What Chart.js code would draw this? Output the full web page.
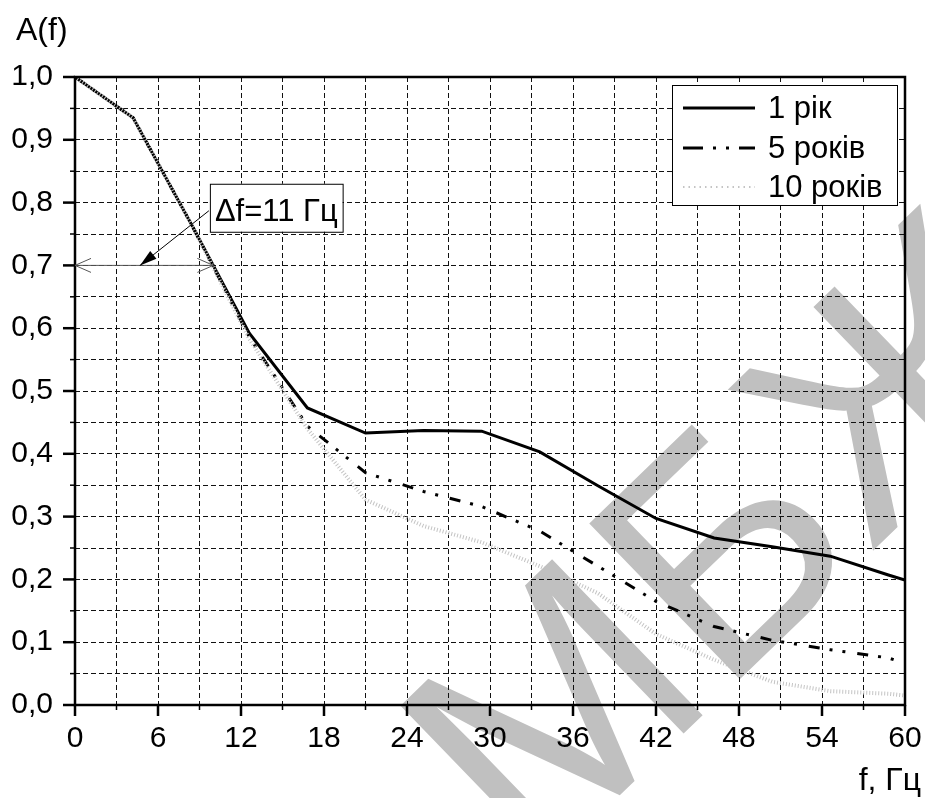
<!DOCTYPE html>
<html>
<head>
<meta charset="utf-8">
<script src="https://cdn.jsdelivr.net/npm/chart.js@4.4.1/dist/chart.umd.min.js"></script>
<style>
  html,body{margin:0;padding:0;background:#fff;}
  #c{display:block;}
</style>
</head>
<body>
<canvas id="c" width="925" height="798"></canvas>
<script>
// ---------- data ----------
const FREQ   = [0, 4.2, 8.4, 12.6, 16.8, 21, 25.2, 29.4, 33.6, 37.8, 42, 46.2, 50.4, 54.6, 58.8, 60];
const A_1Y   = [1.0, 0.935, 0.766, 0.592, 0.473, 0.433, 0.437, 0.436, 0.403, 0.349, 0.297, 0.266, 0.252, 0.237, 0.207, 0.199];
const A_5Y   = [1.0, 0.935, 0.766, 0.586, 0.444, 0.370, 0.340, 0.316, 0.277, 0.221, 0.165, 0.125, 0.103, 0.088, 0.075, 0.066];
const A_10Y  = [1.0, 0.935, 0.766, 0.583, 0.440, 0.327, 0.285, 0.259, 0.221, 0.178, 0.113, 0.072, 0.037, 0.022, 0.018, 0.015];
const SERIES_NAMES = ['1 рік', '5 років', '10 років'];
const X_TICK_LABELS = ['0','6','12','18','24','30','36','42','48','54','60'];
const Y_TICK_LABELS = ['0,0','0,1','0,2','0,3','0,4','0,5','0,6','0,7','0,8','0,9','1,0'];
const X_TITLE = 'f, Гц';
const Y_TITLE = 'A(f)';
const ANNOT_TEXT = 'Δf=11 Гц';
const ANNOT_LEVEL = 0.7;     // A value of the bandwidth line
const ANNOT_F_END = 10;      // f where the line meets the curve
const ANNOT_ARROW_F = 4.7;   // arrow target on the line
const ANNOT_BOX_F = 9.75, ANNOT_BOX_A = 0.83;
const WATERMARK = 'МБЖ';

const FONT = '"Liberation Sans", Arial, sans-serif';
const DASHDOT = [11, 10, 3, 10, 3, 12];
const DOTTED = [1, 2];

function pts(ys){ return FREQ.map((f,i)=>({x:f, y:ys[i]})); }

const framePlugin = {
  id: 'frame',
  afterDatasetsDraw(chart){
    const ctx = chart.ctx, a = chart.chartArea;
    const xs = chart.scales.x, ys = chart.scales.y;
    ctx.save();
    // frame
    ctx.strokeStyle = '#000'; ctx.lineWidth = 2.5; ctx.setLineDash([]);
    ctx.strokeRect(a.left, a.top, a.right - a.left, a.bottom - a.top);
    // x ticks
    for (let v = 0; v <= 60; v += 3){
      const x = xs.getPixelForValue(v); const major = v % 6 === 0;
      ctx.lineWidth = major ? 2.5 : 1.5;
      ctx.beginPath(); ctx.moveTo(x, a.bottom); ctx.lineTo(x, a.bottom + (major ? 11 : 5)); ctx.stroke();
    }
    // y ticks
    for (let k = 0; k <= 20; k++){
      const y = ys.getPixelForValue(k * 0.05); const major = k % 2 === 0;
      ctx.lineWidth = major ? 2.5 : 1.5;
      ctx.beginPath(); ctx.moveTo(a.left, y); ctx.lineTo(a.left - (major ? 12 : 5), y); ctx.stroke();
    }
    // bandwidth annotation
    const yL = ys.getPixelForValue(ANNOT_LEVEL);
    const x0 = xs.getPixelForValue(0), x1 = xs.getPixelForValue(ANNOT_F_END);
    ctx.strokeStyle = '#555'; ctx.lineWidth = 1;
    ctx.beginPath(); ctx.moveTo(x0, yL); ctx.lineTo(x1, yL);
    ctx.moveTo(x0 + 16, yL - 7); ctx.lineTo(x0, yL); ctx.lineTo(x0 + 16, yL + 7);
    ctx.moveTo(x1 - 16, yL - 7); ctx.lineTo(x1, yL); ctx.lineTo(x1 - 16, yL + 7);
    ctx.stroke();
    // box
    ctx.font = '31px ' + FONT;
    const tw = ctx.measureText(ANNOT_TEXT).width;
    const bx = xs.getPixelForValue(ANNOT_BOX_F), by = ys.getPixelForValue(ANNOT_BOX_A);
    const bw = tw + 10, bh = 48;
    ctx.fillStyle = '#fff'; ctx.fillRect(bx, by, bw, bh);
    ctx.strokeStyle = '#000'; ctx.lineWidth = 1; ctx.strokeRect(bx + 0.5, by + 0.5, bw, bh);
    ctx.fillStyle = '#000'; ctx.textBaseline = 'alphabetic'; ctx.textAlign = 'left';
    ctx.fillText(ANNOT_TEXT, bx + 5, by + 37);
    // arrow
    const ax = xs.getPixelForValue(ANNOT_ARROW_F);
    const sx = bx - 1, sy = by + 27;
    const ang = Math.atan2(yL - sy, ax - sx);
    ctx.beginPath(); ctx.moveTo(sx, sy); ctx.lineTo(ax, yL); ctx.stroke();
    ctx.beginPath();
    ctx.moveTo(ax, yL);
    ctx.lineTo(ax - 17*Math.cos(ang) + 5*Math.sin(ang), yL - 17*Math.sin(ang) - 5*Math.cos(ang));
    ctx.lineTo(ax - 17*Math.cos(ang) - 5*Math.sin(ang), yL - 17*Math.sin(ang) + 5*Math.cos(ang));
    ctx.closePath(); ctx.fill();
    ctx.restore();
  },
  afterDraw(chart){
    const ctx = chart.ctx, a = chart.chartArea;
    ctx.save();
    // legend
    const lx = 672, ly = 85, lw = 225, lh = 120;
    ctx.fillStyle = '#fff'; ctx.fillRect(lx, ly, lw, lh);
    ctx.strokeStyle = '#000'; ctx.lineWidth = 1; ctx.setLineDash([]);
    ctx.strokeRect(lx + 0.5, ly + 0.5, lw, lh);
    const rows = [108, 148, 187];
    const ds = chart.data.datasets;
    const order = [2, 1, 0]; // datasets are stored 10,5,1
    ctx.font = '31px ' + FONT; ctx.textBaseline = 'middle'; ctx.textAlign = 'left';
    order.forEach((di, r) => {
      const d = ds[di];
      ctx.save();
      ctx.strokeStyle = d.borderColor;
      ctx.lineWidth = d.legendWidth;
      ctx.setLineDash(d.legendDash);
      ctx.beginPath(); ctx.moveTo(683, rows[r]); ctx.lineTo(755, rows[r]); ctx.stroke();
      ctx.restore();
      ctx.fillStyle = '#000';
      ctx.fillText(d.label, 768, rows[r] + 1);
    });
    // axis titles
    ctx.font = '32px ' + FONT; ctx.textBaseline = 'alphabetic';
    ctx.textAlign = 'left'; ctx.fillText(Y_TITLE, 16, 40);
    ctx.textAlign = 'right'; ctx.fillText(X_TITLE, 921, 790);
    // watermark
    ctx.globalCompositeOperation = 'darken';
    ctx.fillStyle = '#c0c0c0';
    ctx.translate(728, 535); ctx.rotate(-44 * Math.PI / 180);
    ctx.font = '315px ' + FONT; ctx.textAlign = 'center'; ctx.textBaseline = 'alphabetic';
    ctx.fillText(WATERMARK, 0, 112);
    ctx.restore();
  }
};

new Chart(document.getElementById('c'), {
  type: 'line',
  data: {
    datasets: [
      { label: SERIES_NAMES[2], data: pts(A_10Y), borderColor: '#c4c4c4', borderWidth: 4, borderDash: DOTTED,
        legendDash: [1.5, 4], legendWidth: 2, pointRadius: 0, tension: 0, fill: false },
      { label: SERIES_NAMES[1], data: pts(A_5Y), borderColor: '#000', borderWidth: 3, borderDash: DASHDOT,
        legendDash: [20, 10, 3, 10, 3, 10], legendWidth: 3, pointRadius: 0, tension: 0, fill: false },
      { label: SERIES_NAMES[0], data: pts(A_1Y), borderColor: '#000', borderWidth: 3, borderDash: [],
        legendDash: [], legendWidth: 3, pointRadius: 0, tension: 0, fill: false }
    ]
  },
  options: {
    responsive: false,
    devicePixelRatio: 1,
    animation: false,
    layout: { padding: { top: 77, right: 20, left: 0, bottom: 0 } },
    plugins: { legend: { display: false }, tooltip: { enabled: false } },
    scales: {
      x: {
        type: 'linear', min: 0, max: 60,
        ticks: {
          stepSize: 3, autoSkip: false, maxRotation: 0, minRotation: 0, padding: 16,
          color: '#000', font: { family: FONT, size: 30 },
          callback: (v) => (v % 6 === 0) ? X_TICK_LABELS[v / 6] : ''
        },
        grid: { drawTicks: false, color: '#111', lineWidth: (c) => (c.tick && (c.tick.value === 0 || c.tick.value === 60)) ? 0 : 1 },
        border: { display: false, dash: [5, 3] },
        afterFit: (s) => { s.height = 93; s.paddingLeft = 0; s.paddingRight = 0; }
      },
      y: {
        min: 0, max: 1,
        ticks: {
          stepSize: 0.05, autoSkip: false, padding: 22,
          color: '#000', font: { family: FONT, size: 30 },
          callback: (v) => { const k = Math.round(v * 20); return k % 2 === 0 ? Y_TICK_LABELS[k / 2] : ''; }
        },
        grid: { drawTicks: false, color: '#111', lineWidth: (c) => (c.tick && (Math.abs(c.tick.value) < 1e-6 || Math.abs(c.tick.value - 1) < 1e-6)) ? 0 : 1 },
        border: { display: false, dash: [5, 3] },
        afterFit: (s) => { s.width = 75; s.paddingTop = 0; s.paddingBottom = 0; }
      }
    }
  },
  plugins: [framePlugin]
});
</script>
</body>
</html>
